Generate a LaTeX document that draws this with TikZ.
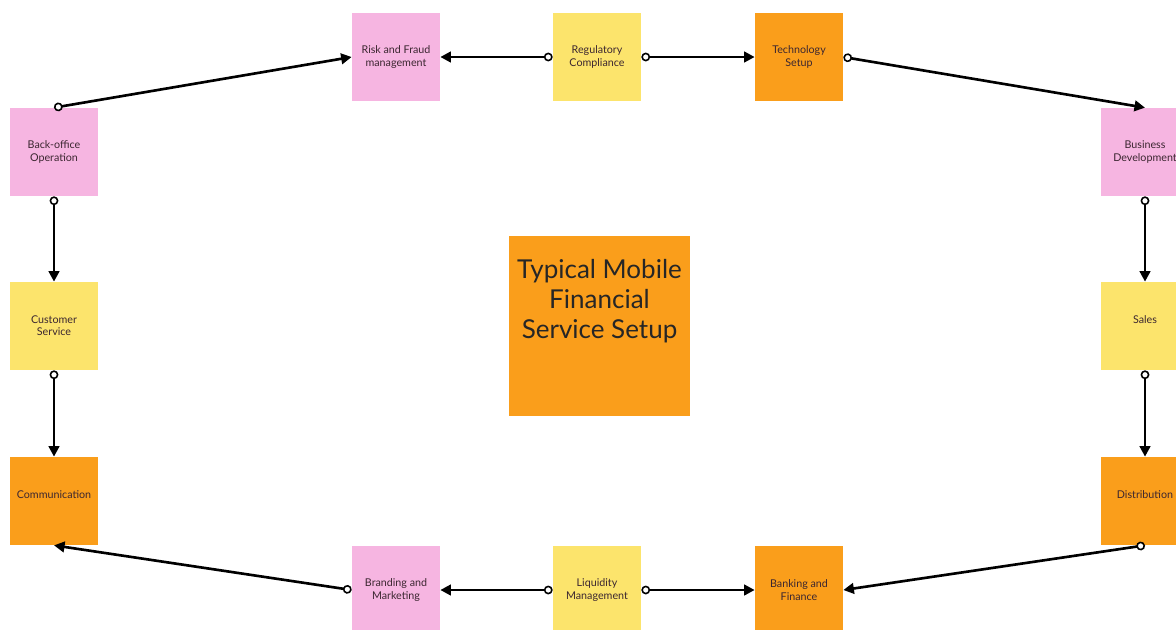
\documentclass[tikz,border=0pt]{standalone}
\usepackage{fontspec}
\setmainfont{Lato}
\usepackage{xcolor}
\usetikzlibrary{arrows.meta}
\definecolor{rosa}{HTML}{F6B5E1}
\definecolor{amarelo}{HTML}{FCE46C}
\definecolor{laranja}{HTML}{FA9E1B}
\definecolor{tinta}{HTML}{3B2630}

\begin{document}
\begin{tikzpicture}[x=0.02cm, y=-0.02cm,
    nota/.style={minimum width=1.76cm, minimum height=1.76cm, align=center, inner sep=0pt,
        text=tinta, font=\fontsize{6.1}{7}\selectfont},
    rosabox/.style={nota, fill=rosa},
    amarelobox/.style={nota, fill=amarelo},
    laranjabox/.style={nota, fill=laranja},
    umalinha/.style={text depth=0.24cm},
    seta/.style={draw, line width=1.5pt,
        {Circle[open, length=5pt, width=5pt, line width=0.9pt, fill=white]}-{Triangle[length=6pt, width=6pt]}}
]
    \useasboundingbox (0,0) rectangle (1176,629);

    % centre
    \node[laranjabox, minimum width=3.62cm, minimum height=3.6cm] (setup) at (599.5,326) {};
    \node[align=center, text=black!85, font=\fontsize{14.8}{17.2}\selectfont] (titulo) at (599.5,301)
        {Typical Mobile\\Financial\\Service Setup};

    % top row
    \node[rosabox] (risk) at (396,57) {Risk and Fraud\\management};
    \node[amarelobox] (reg) at (597,57) {Regulatory\\Compliance};
    \node[laranjabox] (tech) at (799,57) {Technology\\Setup};

    % left column
    \node[rosabox] (backoffice) at (54,152) {Back-office\\Operation};
    \node[amarelobox] (customer) at (54,326) {Customer\\Service};
    \node[laranjabox, umalinha] (comm) at (54,501) {Communication};

    % right column
    \node[rosabox] (business) at (1145,152) {Business\\Development};
    \node[amarelobox, umalinha] (sales) at (1145,326) {Sales};
    \node[laranjabox, umalinha] (distrib) at (1145,501) {Distribution};

    % bottom row
    \node[rosabox] (brand) at (396,590) {Branding and\\Marketing};
    \node[amarelobox] (liquid) at (597,590) {Liquidity\\Management};
    \node[laranjabox] (bank) at (799,590) {Banking and\\Finance};

    \draw[seta] (backoffice.north) -- (risk.west);
    \draw[seta] (reg.west) -- (risk.east);
    \draw[seta] (reg.east) -- (tech.west);
    \draw[seta] (tech.east) -- (business.north);
    \draw[seta] (business.south) -- (sales.north);
    \draw[seta] (sales.south) -- (distrib.north);
    \draw[seta] (distrib.south) -- (bank.east);
    \draw[seta] (liquid.east) -- (bank.west);
    \draw[seta] (liquid.west) -- (brand.east);
    \draw[seta] (brand.west) -- (comm.south);
    \draw[seta] (backoffice.south) -- (customer.north);
    \draw[seta] (customer.south) -- (comm.north);
\end{tikzpicture}
\end{document}
